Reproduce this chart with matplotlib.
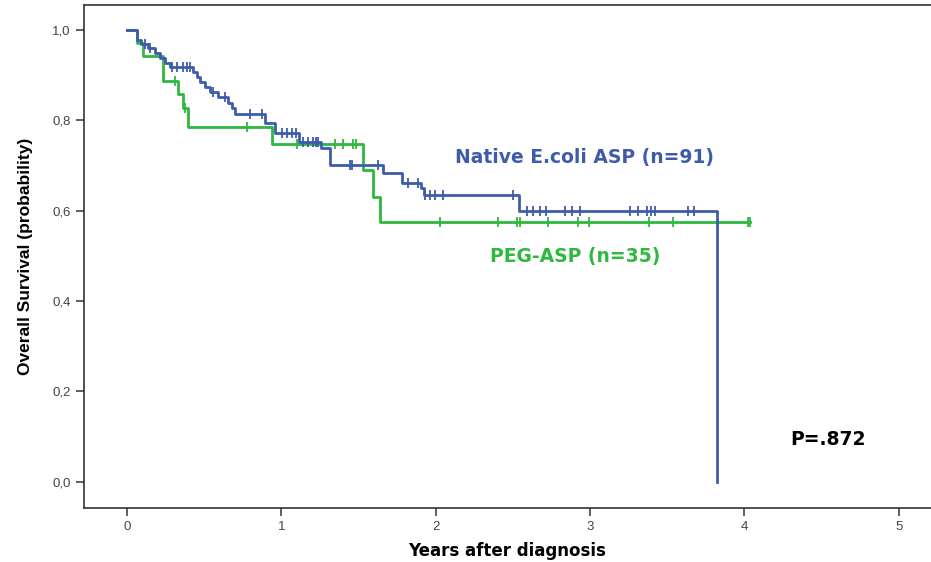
# Kaplan-Meier overall survival by asparaginase type
import matplotlib.pyplot as plt
import numpy as np

plt.rcParams['font.family'] = ['Liberation Sans', 'DejaVu Sans']

# step times (years) and survival after each step
native_times = [0.065, 0.091, 0.136, 0.182, 0.214, 0.246, 0.279, 0.428, 0.454, 0.473,
                0.506, 0.538, 0.590, 0.655, 0.681, 0.700, 0.895, 0.960, 1.115, 1.258,
                1.316, 1.660, 1.783, 1.907, 1.926, 2.542, 3.826]
native_surv = [0.978, 0.969, 0.960, 0.949, 0.938, 0.927, 0.918, 0.907, 0.896, 0.885,
               0.874, 0.863, 0.852, 0.838, 0.827, 0.814, 0.794, 0.772, 0.752, 0.739,
               0.701, 0.684, 0.662, 0.650, 0.635, 0.600, 0.0]
native_censor = [0.117, 0.149, 0.292, 0.324, 0.363, 0.389, 0.409, 0.558, 0.636, 0.798,
                 0.875, 1.005, 1.038, 1.070, 1.096, 1.141, 1.174, 1.206, 1.226, 1.239,
                 1.446, 1.459, 1.628, 1.822, 1.887, 1.932, 1.965, 1.997, 2.049, 2.503,
                 2.594, 2.633, 2.678, 2.717, 2.840, 2.886, 2.938, 3.262, 3.314, 3.372,
                 3.398, 3.418, 3.638, 3.677]

peg_times = [0.065, 0.104, 0.233, 0.331, 0.363, 0.396, 0.940, 1.530, 1.595, 1.641]
peg_surv = [0.971, 0.943, 0.886, 0.857, 0.828, 0.785, 0.748, 0.689, 0.631, 0.575]
peg_end = 4.04
peg_censor = [0.311, 0.376, 0.778, 1.102, 1.349, 1.401, 1.466, 1.485, 2.030, 2.406,
              2.529, 2.549, 2.730, 2.925, 2.996, 3.385, 3.541, 4.027]

blue = '#3F5CAB'
green = '#2EB83E'


def surv_at(times, surv, t):
    idx = np.searchsorted(times, t, side='right')
    return ([1.0] + list(surv))[idx]


fig = plt.figure(figsize=(9.31, 5.62), dpi=100)
ax = fig.add_axes([0.0902, 0.0961, 0.9098, 0.895])

# native E.coli ASP
x = [0] + native_times
y = [1.0] + native_surv
ax.step(x, y, where='post', color=blue, lw=2.0, zorder=3)
ax.plot(native_censor, [surv_at(native_times, native_surv, t) for t in native_censor],
        ls='none', marker='|', ms=7, mew=1.3, color=blue, zorder=3)

# PEG-ASP
x = [0] + peg_times + [peg_end]
y = [1.0] + peg_surv + [peg_surv[-1]]
ax.step(x, y, where='post', color=green, lw=2.0, zorder=2)
ax.plot(peg_censor + [peg_end],
        [surv_at(peg_times, peg_surv, t) for t in peg_censor + [peg_end]],
        ls='none', marker='|', ms=7, mew=1.3, color=green, zorder=2)

ax.text(2.127, 0.717, 'Native E.coli ASP (n=91)', color=blue, fontsize=13.5,
        fontweight='bold', va='center', ha='left', family='DejaVu Sans')
ax.text(2.354, 0.498, 'PEG-ASP (n=35)', color=green, fontsize=13.5,
        fontweight='bold', va='center', ha='left', family='DejaVu Sans')
ax.text(4.30, 0.093, 'P=.872', color='black', fontsize=13.5, fontweight='bold',
        va='center', ha='left', family='DejaVu Sans')

ax.set_xlim(-0.28, 5.21)
ax.set_ylim(-0.058, 1.055)
ax.set_xticks([0, 1, 2, 3, 4, 5])
ax.set_yticks([0, 0.2, 0.4, 0.6, 0.8, 1.0])
ax.set_yticklabels(['0,0', '0,2', '0,4', '0,6', '0,8', '1,0'])
ax.tick_params(direction='out', length=6, width=1.1, color='#333333',
               labelcolor='#444444', labelsize=9.5)
for s in ['left', 'bottom', 'top']:
    ax.spines[s].set_color('#333333')
    ax.spines[s].set_linewidth(1.2)
ax.spines['right'].set_visible(False)

ax.set_xlabel('Years after diagnosis', fontsize=12, fontweight='bold', labelpad=6,
              family='DejaVu Sans')
ax.set_ylabel('Overall Survival (probability)', fontsize=12.5, fontweight='bold',
              labelpad=14)

plt.savefig('out.png', dpi=100)
